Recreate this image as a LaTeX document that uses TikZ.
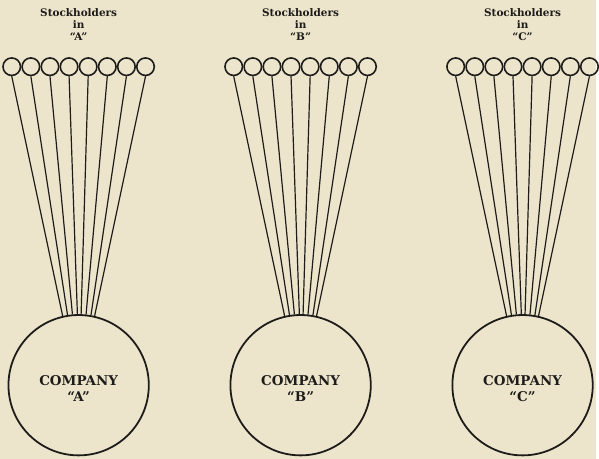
\documentclass[tikz,border=0pt]{standalone}
\usepackage{fontspec}
\setmainfont{DejaVu Serif}
\usetikzlibrary{positioning}
\definecolor{paper}{RGB}{236,229,203}
\definecolor{ink}{RGB}{30,28,26}

\begin{document}
\begin{tikzpicture}[x=1pt, y=-1pt,
			holder/.style={circle, draw=ink, line width=1.6pt, minimum size=17.6pt, inner sep=0pt},
			company/.style={circle, draw=ink, line width=1.8pt, minimum size=141pt, inner sep=0pt},
			coname/.style={align=center, text=ink, font=\fontsize{13.5}{16}\selectfont\bfseries},
			title/.style={align=center, text=ink, font=\fontsize{10.5}{12}\selectfont\bfseries},
			tie/.style={draw=ink, line width=1.2pt}
		]
		% Paper
		\fill[paper] (0,0) rectangle (599,461);
		
		% One group per company: stockholders tied to the company circle
		\foreach \g/\cx in {A/79, B/302, C/525} {
			\node[title] (t\g) at (\cx,25) {Stockholders\\in\\``\g''};
			\node[company] (c\g) at (\cx,387) {};
			\node[coname] (n\g) at (\cx,390) {COMPANY\\``\g''};
			\foreach \i [evaluate=\i as \ang using 103-\i*3.7] in {0,...,7} {
				\node[holder] (s\g\i) at ({\cx+(\i-3.5)*19.2},67) {};
				\draw[tie] (s\g\i.south) -- (c\g.\ang);
			}
		}
		\end{tikzpicture}
\end{document}
